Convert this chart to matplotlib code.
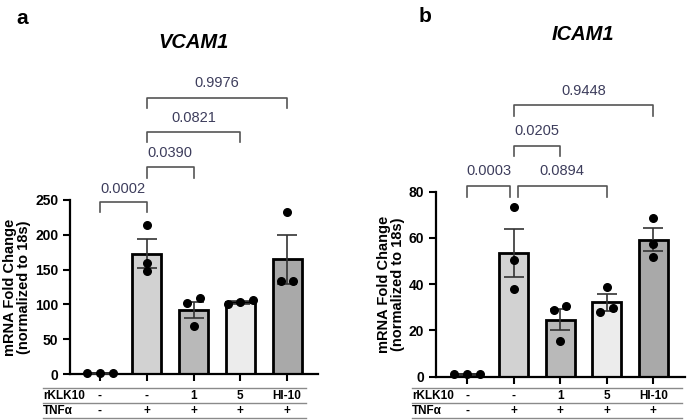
import matplotlib
matplotlib.use("Agg")
import matplotlib.pyplot as plt
import matplotlib.transforms as mtransforms
import numpy as np

plt.rcParams['font.family'] = ['Liberation Sans', 'DejaVu Sans']

# group labels for the condition table
rklk10 = ['-', '-', '1', '5', 'HI-10']
tnfa = ['-', '+', '+', '+', '+']

# VCAM1 (panel a)
vcam_mean = [1, 173, 92, 103, 165]
vcam_sem = [0.5, 21, 12, 2, 35]
vcam_pts = [[1, 1, 1], [214, 160, 148], [109, 102, 69], [100, 106, 103], [134, 134, 233]]
vcam_p = ['0.0002', '0.0390', '0.0821', '0.9976']
vcam_pairs = [(0, 1), (1, 2), (1, 3), (1, 4)]

# ICAM1 (panel b)
icam_mean = [1, 53.6, 24.7, 32.2, 59.2]
icam_sem = [0.2, 10.3, 4.7, 3.7, 4.9]
icam_pts = [[1, 1, 1], [73.3, 50.5, 38], [30.6, 28.9, 15.4], [39, 27.9, 29.9], [57.4, 51.9, 68.6]]
icam_p = ['0.0003', '0.0894', '0.0205', '0.9448']
icam_pairs = [(0, 1), (1, 3), (1, 2), (1, 4)]

bar_colors = ['#d6d6d6', '#d2d2d2', '#b9b9b9', '#ececec', '#a9a9a9']
pcolor = '#3d3d5c'
bcolor = '#555555'

fig = plt.figure(figsize=(6.87, 4.2), dpi=100)
W, H = 687, 420


def swarm(vals, px_per_unit, thr=7.5, step=0.27):
    # spread dots that would overlap, GraphPad style
    vals = np.asarray(vals, float)
    order = np.argsort(vals)
    offs = np.zeros(len(vals))
    clusters = [[order[0]]]
    for i in order[1:]:
        if (vals[i] - vals[clusters[-1][-1]]) * px_per_unit < thr:
            clusters[-1].append(i)
        else:
            clusters.append([i])
    for c in clusters:
        n = len(c)
        for k, idx in enumerate(c):
            offs[idx] = (k - (n - 1) / 2) * step
    return offs


def panel(rect, means, sems, pts, ymax, ystep, xlim, pairs, plabels, levels):
    ax = fig.add_axes(rect)
    x = np.arange(len(means))
    ax.bar(x, means, width=0.62, color=bar_colors, edgecolor='black', linewidth=2.0, zorder=2)
    ax.errorbar(x, means, yerr=sems, fmt='none', ecolor='#333333', elinewidth=1.2,
                capsize=7, capthick=1.2, zorder=3)
    ppu = rect[3] * H / ymax
    for i, vals in enumerate(pts):
        offs = swarm(vals, ppu)
        ax.scatter(x[i] + offs, vals, s=30, color='black', zorder=4, clip_on=False)
    ax.set_ylim(0, ymax)
    ax.set_xlim(*xlim)
    ax.set_yticks(np.arange(0, ymax + 1, ystep))
    ax.set_xticks(x)
    ax.set_xticklabels([])
    for s in ['top', 'right']:
        ax.spines[s].set_visible(False)
    for s in ['left', 'bottom']:
        ax.spines[s].set_linewidth(1.6)
    ax.tick_params(axis='both', width=1.5, length=5, labelsize=10)
    for lab in ax.get_yticklabels():
        lab.set_fontweight('bold')
    ax.set_ylabel('mRNA Fold Change\n(normalized to 18s)', fontsize=10.5, fontweight='bold',
                  linespacing=1.0, labelpad=3)
    # significance brackets
    for (a, b), lab, (top, leg, ty, ia, ib) in zip(pairs, plabels, levels):
        xa, xb = x[a] + ia, x[b] + ib
        ax.plot([xa, xa, xb, xb], [leg, top, top, leg], color=bcolor, lw=1.2,
                clip_on=False)
        ax.text((xa + xb) / 2, ty, lab, ha='center', va='center', fontsize=10.5,
                color=pcolor)
    return ax


# panel a
ax_a = panel([70 / W, 46 / H, 248 / W, 174 / H], vcam_mean, vcam_sem, vcam_pts, 250, 50,
             (-0.64, 4.66), vcam_pairs, vcam_p,
             [(247, 233, 266, 0, 0), (297, 282, 318, 0, 0),
              (348, 333, 368, 0, 0), (397, 382, 418, 0, 0)])
# panel b
ax_b = panel([436 / W, 43.3 / H, 249 / W, 185 / H], icam_mean, icam_sem, icam_pts, 80, 20,
             (-0.667, 4.68), icam_pairs, icam_p,
             [(82.6, 77.8, 89, 0, -0.07), (82.6, 77.8, 89, 0.09, 0),
              (99.9, 95.6, 106.4, 0, 0), (117.6, 112.9, 123.7, 0, 0)])

fig.text(22 / W, 1 - 18 / H, 'a', fontsize=15, fontweight='bold', ha='center', va='center')
fig.text(425 / W, 1 - 17 / H, 'b', fontsize=15, fontweight='bold', ha='center', va='center')
fig.text(193 / W, 1 - 43 / H, 'VCAM1', fontsize=14.5, fontweight='bold', style='italic',
         ha='center', va='center')
fig.text(583 / W, 1 - 35 / H, 'ICAM1', fontsize=14.5, fontweight='bold', style='italic',
         ha='center', va='center')


def table(ax, x0, x1):
    tr = mtransforms.blended_transform_factory(ax.transData, fig.transFigure)
    for yl in [388, 403, 418]:
        fig.add_artist(plt.Line2D([x0 / W, x1 / W], [1 - yl / H] * 2, color='#8a8a8a', lw=1.0))
    for row, yr in [(rklk10, 396), (tnfa, 411)]:
        for i, t in enumerate(row):
            ax.text(i, 1 - yr / H, t, transform=tr, ha='center', va='center', fontsize=8.5,
                    fontweight='bold')
    fig.text(x0 / W, 1 - 396 / H, 'rKLK10', ha='left', va='center', fontsize=8.5, fontweight='bold')
    fig.text(x0 / W, 1 - 411 / H, 'TNFα', ha='left', va='center', fontsize=8.5, fontweight='bold')


table(ax_a, 43, 306)
table(ax_b, 412, 682)

fig.savefig('out.png', dpi=100)
